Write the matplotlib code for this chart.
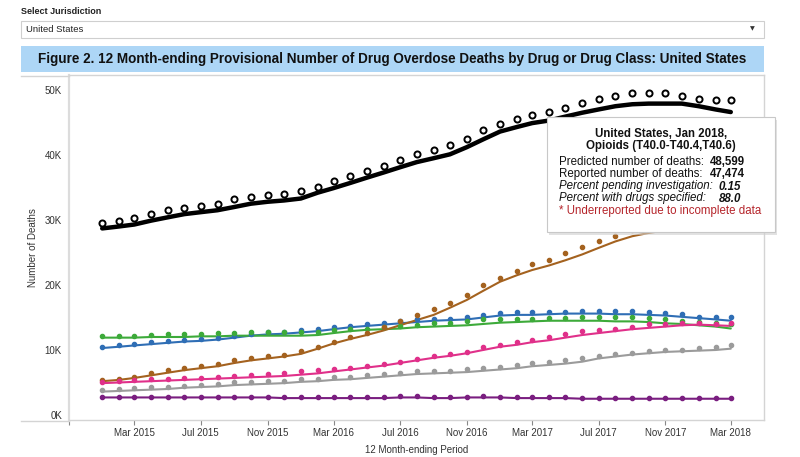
import matplotlib
matplotlib.use("Agg")
import matplotlib.pyplot as plt
from matplotlib.patches import Rectangle
from matplotlib.lines import Line2D
import pandas as pd

plt.rcParams['font.family'] = ['Liberation Sans', 'DejaVu Sans']

# ---------------- data (thousands of deaths) ----------------
months = pd.date_range('2015-01-01', '2018-03-01', freq='MS')

opioid_pred = [29.6,29.8,30.3,30.9,31.5,31.8,32.1,32.5,33.2,33.6,
               33.8,34.0,34.5,35.1,36.0,36.8,37.5,38.3,39.2,40.1,
               40.7,41.5,42.5,43.8,44.7,45.5,46.1,46.6,47.2,48.0,
               48.6,49.1,49.6,49.6,49.6,49.1,48.6,48.5,48.5]
opioid_rep = [28.7,29.0,29.3,29.9,30.4,30.9,31.2,31.5,32.0,32.5,
              32.8,33.0,33.3,34.2,34.9,35.7,36.5,37.3,38.1,38.9,
              39.5,40.1,41.2,42.4,43.6,44.3,44.9,45.3,45.9,46.5,
              47.0,47.5,47.8,47.9,47.9,47.9,47.5,47.0,46.6]

green_pred = [12.2,12.2,12.2,12.3,12.5,12.5,12.5,12.6,12.6,12.7,
              12.7,12.7,12.8,12.8,13.1,13.3,13.3,13.6,13.7,13.8,
              14.1,14.2,14.4,14.7,14.7,14.8,14.8,14.9,14.9,15.0,
              15.0,15.0,15.0,14.9,14.8,14.5,14.3,14.1,14.0]
green_rep = [11.9,11.9,11.9,12.0,12.0,12.0,12.1,12.1,12.2,12.2,
             12.2,12.2,12.2,12.3,12.6,12.9,13.1,13.2,13.3,13.5,
             13.6,13.7,13.8,14.0,14.2,14.3,14.4,14.5,14.5,14.5,
             14.5,14.4,14.4,14.3,14.1,14.0,13.8,13.6,13.3]

blue_pred = [10.4,10.8,10.9,11.2,11.4,11.5,11.7,11.9,12.2,12.5,
             12.8,12.8,13.0,13.3,13.5,13.7,14.0,14.2,14.5,14.7,
             14.7,14.8,15.0,15.4,15.7,15.8,15.8,15.9,15.9,16.0,
             16.0,16.0,16.0,15.9,15.7,15.5,15.1,15.1,15.0]
blue_rep = [10.3,10.5,10.7,10.9,11.1,11.3,11.4,11.6,11.9,12.2,
            12.4,12.5,12.7,12.9,13.2,13.5,13.7,13.9,14.1,14.3,
            14.5,14.6,14.7,15.0,15.3,15.4,15.4,15.5,15.6,15.6,
            15.6,15.5,15.5,15.4,15.3,15.1,14.9,14.7,14.5]

brown_pred = [5.4,5.6,5.9,6.5,6.9,7.2,7.5,7.8,8.4,8.8,
              9.1,9.2,9.8,10.4,11.2,12.0,12.6,13.6,14.4,15.4,
              16.3,17.3,18.4,20.0,21.0,22.2,23.2,23.8,24.9,25.9,
              26.8,27.6,28.4,29.1,29.8,30.4,30.9,31.4,31.8]
brown_rep = [5.2,5.4,5.7,6.1,6.5,6.9,7.2,7.5,8.0,8.4,
             8.7,9.0,9.4,10.2,11.0,11.7,12.3,13.0,13.8,14.6,
             15.4,16.5,17.7,19.1,20.5,21.5,22.3,23.0,23.8,24.7,
             25.7,26.7,27.5,28.0,28.4,28.8,29.1,29.4,29.6]

pink_pred = [5.0,5.3,5.4,5.5,5.6,5.7,5.7,5.9,6.0,6.2,
             6.3,6.4,6.7,6.9,7.0,7.3,7.6,7.8,8.2,8.6,
             9.0,9.4,9.7,10.4,10.8,11.2,11.6,12.0,12.5,12.9,
             13.1,13.3,13.6,14.0,14.0,14.1,14.1,14.0,14.1]
pink_rep = [4.9,5.0,5.1,5.2,5.3,5.4,5.5,5.6,5.7,5.8,
            5.9,6.0,6.2,6.4,6.7,7.0,7.3,7.6,8.0,8.4,
            8.8,9.1,9.5,10.0,10.5,10.8,11.2,11.5,11.9,12.3,
            12.6,12.9,13.2,13.4,13.6,13.8,13.9,13.8,13.7]

gray_pred = [3.8,4.0,4.1,4.3,4.3,4.5,4.6,4.8,5.0,5.1,
             5.2,5.3,5.5,5.6,5.8,5.9,6.1,6.3,6.5,6.7,
             6.7,6.8,7.0,7.3,7.4,7.7,8.0,8.1,8.4,8.7,
             9.1,9.4,9.6,9.9,10.0,10.0,10.3,10.5,10.7]
gray_rep = [3.6,3.7,3.8,3.9,4.0,4.2,4.3,4.4,4.6,4.7,
            4.8,4.9,5.1,5.2,5.4,5.5,5.7,5.9,6.1,6.3,
            6.4,6.5,6.6,6.8,7.0,7.2,7.5,7.7,7.9,8.2,
            8.7,9.0,9.3,9.5,9.7,9.8,9.9,10.0,10.2]

purple_pred = [2.8,2.7,2.8,2.8,2.8,2.8,2.7,2.7,2.8,2.8,
               2.7,2.7,2.7,2.7,2.7,2.7,2.7,2.7,2.9,2.9,
               2.7,2.7,2.8,2.9,2.8,2.7,2.7,2.7,2.7,2.6,
               2.6,2.6,2.6,2.6,2.6,2.6,2.6,2.6,2.6]
purple_rep = [2.7,2.7,2.7,2.7,2.7,2.7,2.7,2.7,2.7,2.7,
              2.7,2.6,2.6,2.6,2.6,2.6,2.6,2.6,2.7,2.7,
              2.6,2.6,2.7,2.7,2.7,2.6,2.6,2.6,2.6,2.5,
              2.5,2.5,2.5,2.5,2.5,2.5,2.5,2.5,2.5]

tick_dates = pd.to_datetime(['2014-11-01', '2015-03-01', '2015-07-01', '2015-11-01',
                             '2016-03-01', '2016-07-01', '2016-11-01', '2017-03-01',
                             '2017-07-01', '2017-11-01', '2018-03-01'])
tick_labels = ['', 'Mar 2015', 'Jul 2015', 'Nov 2015', 'Mar 2016', 'Jul 2016',
               'Nov 2016', 'Mar 2017', 'Jul 2017', 'Nov 2017', 'Mar 2018']
y_ticks = [0, 10, 20, 30, 40, 50]
y_labels = ['0K', '10K', '20K', '30K', '40K', '50K']

colored = [
    (blue_pred, blue_rep, '#2F6EB5'),
    (green_pred, green_rep, '#3DAA3A'),
    (brown_pred, brown_rep, '#A4621F'),
    (pink_pred, pink_rep, '#E0308A'),
    (gray_pred, gray_rep, '#9B9B9B'),
    (purple_pred, purple_rep, '#7A1E80'),
]

# ---------------- figure ----------------
W, H = 800, 457
fig = plt.figure(figsize=(W / 100, H / 100), dpi=100)

def fx(x):
    return x / W

def fy(y):
    return 1 - y / H

# header widgets
fig.text(fx(21), fy(11), 'Select Jurisdiction', fontsize=6.5, fontweight='bold',
         va='center', ha='left', color='#222222')
fig.patches.append(Rectangle((fx(21), fy(38)), fx(764) - fx(21), fy(21) - fy(38),
                             transform=fig.transFigure, facecolor='white',
                             edgecolor='#cfcfcf', lw=0.8))
fig.text(fx(26), fy(29.5), 'United States', fontsize=6.8, va='center', ha='left',
         color='#222222')
fig.text(fx(752), fy(29), '\u25bc', fontsize=4.5, va='center', ha='center',
         color='#333333', family=['DejaVu Sans'])
fig.patches.append(Rectangle((fx(21), fy(72)), fx(764) - fx(21), fy(46) - fy(72),
                             transform=fig.transFigure, facecolor='#ADD6F6',
                             edgecolor='none'))
fig.text(fx(392.5), fy(59), 'Figure 2. 12 Month-ending Provisional Number of Drug '
         'Overdose Deaths by Drug or Drug Class: United States',
         fontsize=9.75, fontweight='bold', va='center', ha='center', color='#111111')

# chart frame lines outside the axes
for (x0, y0, x1, y1) in [(21, 75.5, 69, 75.5), (21, 420.5, 69, 420.5)]:
    fig.lines.append(Line2D([fx(x0), fx(x1)], [fy(y0), fy(y1)],
                            transform=fig.transFigure, color='#d4d4d4', lw=1.0))

ax = fig.add_axes([fx(69), fy(420), fx(764) - fx(69), fy(75) - fy(420)])
for s in ['top', 'right', 'bottom']:
    ax.spines[s].set_color('#d4d4d4')
    ax.spines[s].set_linewidth(1.0)
ax.spines['left'].set_color('#dcdcdc')
ax.spines['left'].set_linewidth(1.6)

for pred, rep, col in colored:
    ax.plot(months, [v * 1000 for v in rep], color=col, lw=1.5, solid_capstyle='round',
            zorder=3)
    ax.plot(months, [v * 1000 for v in pred], linestyle='none', marker='o',
            markersize=3.0, color=col, zorder=4)

ax.plot(months, [v * 1000 for v in opioid_rep], color='black', lw=3.2,
        solid_capstyle='round', zorder=5)
ax.plot(months, [v * 1000 for v in opioid_pred], linestyle='none', marker='o',
        markersize=4.4, markerfacecolor='none', markeredgecolor='black',
        markeredgewidth=1.4, zorder=6)

ax.set_xlim(pd.Timestamp('2014-11-01'), pd.Timestamp('2018-05-01'))
ax.set_ylim(-770, 52300)
ax.set_xticks(tick_dates)
ax.set_xticklabels(tick_labels)
ax.set_yticks([v * 1000 for v in y_ticks])
ax.set_yticklabels(y_labels)
ax.tick_params(axis='y', length=0, pad=5, labelsize=7, labelcolor='#333333')
ax.tick_params(axis='x', length=3.5, width=0.8, color='#888888', pad=2.5,
               labelsize=7, labelcolor='#333333')
ax.set_xlabel('12 Month-ending Period', fontsize=7, color='#333333', labelpad=5)
fig.text(fx(33), fy(248), 'Number of Deaths', fontsize=7, color='#333333',
         rotation=90, va='center', ha='center')

# ---------------- tooltip ----------------
tx0, ty0, tx1, ty1 = 547, 117, 775, 232
fig.patches.append(Rectangle((fx(tx0 + 2), fy(ty1 + 3)), fx(tx1) - fx(tx0), fy(ty0) - fy(ty1),
                             transform=fig.transFigure, facecolor='#d0d0d0',
                             edgecolor='none', alpha=0.6, zorder=20))
fig.patches.append(Rectangle((fx(tx0), fy(ty1)), fx(tx1) - fx(tx0), fy(ty0) - fy(ty1),
                             transform=fig.transFigure, facecolor='white',
                             edgecolor='#c8c8c8', lw=0.8, zorder=21))
tfs = 8.3
fig.text(fx(661), fy(134), 'United States, Jan 2018,', fontsize=tfs, fontweight='bold',
         ha='center', va='center', color='#111111', zorder=22)
fig.text(fx(661), fy(146), 'Opioids (T40.0-T40.4,T40.6)', fontsize=tfs, fontweight='bold',
         ha='center', va='center', color='#111111', zorder=22)
rows = [
    ('Predicted number of deaths:', '48,599', 'normal', 162, 710),
    ('Reported number of deaths:', '47,474', 'normal', 174, 710),
    ('Percent pending investigation:', '0.15', 'italic', 186.5, 719),
    ('Percent with drugs specified:', '88.0', 'italic', 198.5, 719),
]
for lab, val, sty, yy, vx in rows:
    fig.text(fx(559), fy(yy), lab, fontsize=tfs, style=sty, ha='left', va='center',
             color='#111111', zorder=22)
    fig.text(fx(vx), fy(yy), val, fontsize=tfs, style=sty, fontweight='bold',
             ha='left', va='center', color='#111111', zorder=22)
fig.text(fx(559), fy(211), '* Underreported due to incomplete data', fontsize=tfs,
         ha='left', va='center', color='#B5252B', zorder=22)

fig.savefig('out.png', dpi=100)
